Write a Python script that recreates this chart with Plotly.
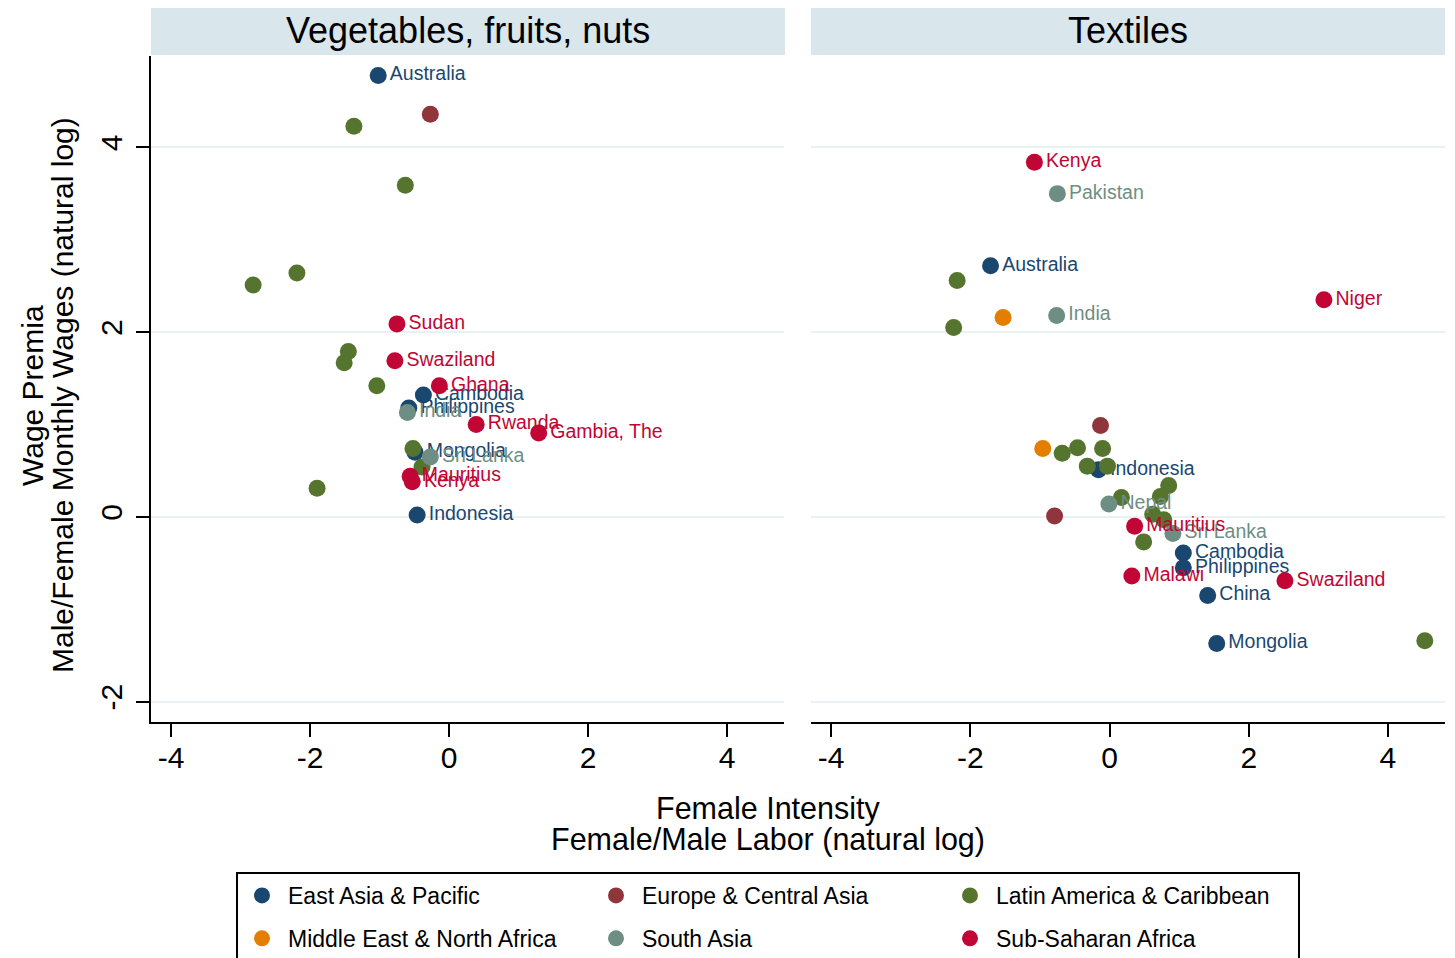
import plotly.graph_objects as go

# ---------------- data ----------------
region_names = ["East Asia & Pacific", "Europe & Central Asia", "Latin America & Caribbean",
                "Middle East & North Africa", "South Asia", "Sub-Saharan Africa"]
region_codes = ["EAP", "ECA", "LAC", "MNA", "SAS", "SSA"]
region_colors = ["#1a476f", "#90353b", "#55752f", "#e37e00", "#6e8e84", "#c10534"]

panel_titles = ["Vegetables, fruits, nuts", "Textiles"]

# Panel 1: Vegetables, fruits, nuts
veg_region = ["EAP", "ECA", "LAC", "LAC", "LAC", "LAC", "SSA", "LAC", "LAC", "SSA",
              "LAC", "SSA", "EAP", "EAP", "SAS", "SSA", "SSA", "LAC", "EAP", "SAS",
              "LAC", "SSA", "SSA", "EAP", "LAC"]
veg_x = [-1.02, -0.27, -1.37, -0.63, -2.19, -2.82, -0.75, -1.45, -1.51, -0.78,
         -1.04, -0.14, -0.37, -0.58, -0.60, 0.39, 1.29, -0.52, -0.49, -0.27,
         -0.39, -0.56, -0.53, -0.46, -1.90]
veg_y = [4.78, 4.36, 4.23, 3.59, 2.64, 2.51, 2.09, 1.79, 1.67, 1.69,
         1.42, 1.42, 1.32, 1.18, 1.13, 1.00, 0.91, 0.74, 0.70, 0.65,
         0.54, 0.44, 0.38, 0.02, 0.31]
veg_label = ["Australia", "", "", "", "", "", "Sudan", "", "", "Swaziland",
             "", "Ghana", "Cambodia", "Philippines", "India", "Rwanda", "Gambia, The", "", "Mongolia", "Sri Lanka",
             "", "Mauritius", "Kenya", "Indonesia", ""]

# Panel 2: Textiles
tex_region = ["SSA", "SAS", "EAP", "LAC", "SSA", "MNA", "SAS", "LAC", "ECA", "MNA",
              "LAC", "LAC", "LAC", "LAC", "EAP", "LAC", "LAC", "LAC", "SAS", "LAC",
              "LAC", "LAC", "ECA", "SSA", "SAS", "LAC", "EAP", "EAP", "SSA", "SSA",
              "EAP", "EAP", "LAC"]
tex_x = [-1.08, -0.75, -1.71, -2.19, 3.08, -1.53, -0.76, -2.24, -0.13, -0.96,
         -0.68, -0.46, -0.10, -0.32, -0.16, -0.03, 0.85, 0.17, -0.01, 0.73,
         0.62, 0.78, -0.79, 0.36, 0.91, 0.49, 1.06, 1.06, 0.32, 2.52,
         1.41, 1.54, 4.53]
tex_y = [3.84, 3.50, 2.72, 2.56, 2.35, 2.16, 2.18, 2.05, 0.99, 0.74,
         0.69, 0.75, 0.74, 0.55, 0.51, 0.55, 0.34, 0.21, 0.14, 0.22,
         0.03, -0.03, 0.01, -0.10, -0.18, -0.27, -0.39, -0.55, -0.64, -0.69,
         -0.85, -1.37, -1.34]
tex_label = ["Kenya", "Pakistan", "Australia", "", "Niger", "", "India", "", "", "",
             "", "", "", "", "Indonesia", "", "", "", "Nepal", "",
             "", "", "", "Mauritius", "Sri Lanka", "", "Cambodia", "Philippines", "Malawi", "Swaziland",
             "China", "Mongolia", ""]

x_tick_vals = [-4, -2, 0, 2, 4]
x_tick_text = ["-4", "-2", "0", "2", "4"]
y_tick_vals = [-2, 0, 2, 4]
y_tick_text = ["-2", "0", "2", "4"]

# ---------------- figure ----------------
FONT = "Liberation Sans, Arial, Helvetica, sans-serif"
W, H = 1455, 958
ML, MR = 151, 10
GW = W - ML - MR


def px_x(p):
    return (p - ML) / GW


def px_y(p):
    return 1 - p / H


fig = go.Figure()
panels = [(veg_region, veg_x, veg_y, veg_label, "x", "y"),
          (tex_region, tex_x, tex_y, tex_label, "x2", "y2")]
shown = set()
for ri, code in enumerate(region_codes):
    for reg, xs, ys, labs, xa, ya in panels:
        idx = [i for i, r in enumerate(reg) if r == code]
        if not idx:
            continue
        show = code not in shown
        shown.add(code)
        fig.add_trace(go.Scatter(
            x=[xs[i] for i in idx], y=[ys[i] for i in idx],
            text=[labs[i] for i in idx],
            mode="markers+text", textposition="middle right",
            textfont=dict(size=19.5, color=region_colors[ri], family=FONT),
            marker=dict(size=17, color=region_colors[ri], line=dict(width=0)),
            name=region_names[ri], legendgroup=code, showlegend=show,
            legendrank=ri + 1, cliponaxis=False,
            xaxis=xa, yaxis=ya, hoverinfo="skip"))

xax = dict(range=[-4.29, 4.82], tickmode="array", tickvals=x_tick_vals, ticktext=x_tick_text,
           ticks="outside", ticklen=13, tickwidth=1.5, tickcolor="black", ticklabelstandoff=-5,
           showline=True, linecolor="black", linewidth=1.5, showgrid=False, zeroline=False,
           tickfont=dict(size=30, color="black", family=FONT))
yax = dict(range=[-2.22, 4.99], tickmode="array", tickvals=y_tick_vals, ticktext=y_tick_text,
           domain=[px_y(722), px_y(56)], showgrid=True, gridcolor="#e9f1f3", gridwidth=2,
           zeroline=False, tickfont=dict(size=30, color="black", family=FONT))

fig.update_layout(
    width=W, height=H, autosize=False,
    margin=dict(l=ML, r=MR, t=0, b=0, autoexpand=False),
    plot_bgcolor="white", paper_bgcolor="white",
    font=dict(family=FONT, color="black"),
    xaxis=dict(domain=[0, px_x(784)], anchor="y", **xax),
    xaxis2=dict(domain=[px_x(811), 1.0], anchor="y2", **xax),
    yaxis=dict(anchor="x", ticks="outside", ticklen=13, tickwidth=1.5, tickcolor="black",
               showline=True, linecolor="black", linewidth=1.5, tickangle=-90,
               ticklabelstandoff=2, **yax),
    yaxis2=dict(anchor="x2", matches="y", showticklabels=False, ticks="", showline=False, **yax),
    legend=dict(orientation="h", x=px_x(236), y=px_y(872), xanchor="left", yanchor="top",
                entrywidth=297, entrywidthmode="pixels", itemwidth=42,
                bordercolor="black", borderwidth=2, bgcolor="white",
                font=dict(size=23, color="black", family=FONT)),
    showlegend=True,
)

# strips
for x0, x1, title in [(151, 785, panel_titles[0]), (811, 1445, panel_titles[1])]:
    fig.add_shape(type="rect", xref="paper", yref="paper",
                  x0=px_x(x0), x1=px_x(x1), y0=px_y(55), y1=px_y(8),
                  fillcolor="#d9e6eb", line=dict(width=0), layer="below")
    fig.add_annotation(text=title, xref="paper", yref="paper",
                       x=px_x((x0 + x1) / 2), y=px_y(31), xanchor="center", yanchor="middle",
                       showarrow=False, font=dict(size=36, color="black", family=FONT))

# axis titles
fig.add_annotation(text="Wage Premia", xref="paper", yref="paper", x=px_x(32), y=px_y(395),
                   textangle=-90, showarrow=False, xanchor="center", yanchor="middle",
                   font=dict(size=30, color="black", family=FONT))
fig.add_annotation(text="Male/Female Monthly Wages (natural log)", xref="paper", yref="paper",
                   x=px_x(62), y=px_y(395), textangle=-90, showarrow=False,
                   xanchor="center", yanchor="middle", font=dict(size=30, color="black", family=FONT))
fig.add_annotation(text="Female Intensity", xref="paper", yref="paper", x=px_x(768), y=px_y(808),
                   showarrow=False, xanchor="center", yanchor="middle",
                   font=dict(size=30.5, color="black", family=FONT))
fig.add_annotation(text="Female/Male Labor (natural log)", xref="paper", yref="paper",
                   x=px_x(768), y=px_y(839), showarrow=False, xanchor="center", yanchor="middle",
                   font=dict(size=30.5, color="black", family=FONT))

PAGE_FIX = (
    "var s=document.createElement('style');"
    "s.textContent='html,body{margin:0;padding:0;overflow:hidden;}';"
    "document.head.appendChild(s);"
)

fig.write_html("out.html", config={"displayModeBar": False}, post_script=PAGE_FIX)
